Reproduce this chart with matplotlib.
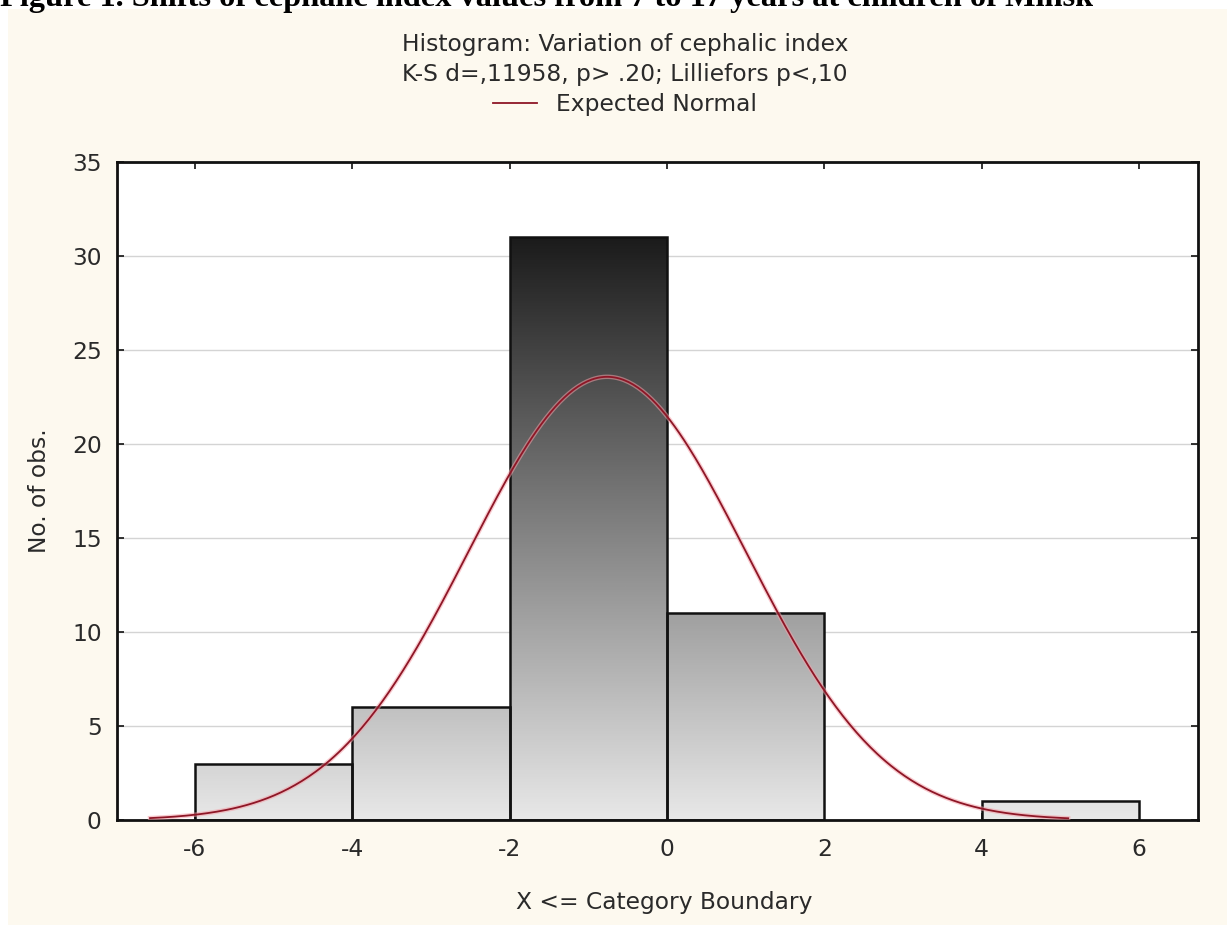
import numpy as np
import matplotlib
matplotlib.use("Agg")
import matplotlib.pyplot as plt
from matplotlib.colors import LinearSegmentedColormap, Normalize
from matplotlib.patches import Rectangle

# ---- data ----
bin_edges = [-6, -4, -2, 0, 2, 4, 6]
counts = [3, 6, 31, 11, 0, 1]
x_ticks = [-6, -4, -2, 0, 2, 4, 6]
y_ticks = [0, 5, 10, 15, 20, 25, 30, 35]
normal_mean = -0.76
normal_sd = 1.76
n_obs = 52
curve_range = (-6.57, 5.1)

fig_title = "Figure 1. Shifts of cephalic index values from 7 to 17 years at children of Minsk"
title1 = "Histogram: Variation of cephalic index"
title2 = "K-S d=,11958, p> .20; Lilliefors p<,10"
legend_label = "Expected Normal"
xlabel = "X <= Category Boundary"
ylabel = "No. of obs."

plt.rcParams['font.family'] = ['DejaVu Sans']
FS = 16.8
TXT = '#2a2a2a'

W, H = 1227, 925
fig = plt.figure(figsize=(W / 100, H / 100), dpi=100)
fig.patch.set_facecolor('white')

# beige panel
fig.patches.append(Rectangle((8 / W, 0), 1 - 8 / W, 1 - 9 / H, transform=fig.transFigure,
                             facecolor='#fdf9ef', edgecolor='none', zorder=-10))

fig.text(0.0, 1 - 6 / H, fig_title, family='Liberation Serif', fontweight='bold',
         fontsize=23.3, ha='left', va='baseline', color='black')

ax = fig.add_axes([117 / W, 1 - 820 / H, (1198 - 117) / W, (820 - 162) / H])
ax.set_facecolor('white')
ax.set_xlim(-6.99, 6.75)
ax.set_ylim(0, 35)

# gradient bars
cmap = LinearSegmentedColormap.from_list('g', ['#e8e8e8', '#1b1b1b'])
vmax = max(counts)
grad = np.linspace(0, vmax, 512).reshape(-1, 1)
for i, c in enumerate(counts):
    if c <= 0:
        continue
    x0, x1 = bin_edges[i], bin_edges[i + 1]
    rect = Rectangle((x0, 0), x1 - x0, c, facecolor='none', edgecolor='#111111', lw=1.8, zorder=3)
    ax.add_patch(rect)
    im = ax.imshow(grad, extent=[x0, x1, 0, vmax], origin='lower', aspect='auto',
                   cmap=cmap, norm=Normalize(0, vmax), zorder=2, interpolation='bilinear')
    im.set_clip_path(rect)

# expected normal curve
xs = np.linspace(curve_range[0], curve_range[1], 400)
binw = bin_edges[1] - bin_edges[0]
ys = n_obs * binw / (normal_sd * np.sqrt(2 * np.pi)) * np.exp(-0.5 * ((xs - normal_mean) / normal_sd) ** 2)
ax.plot(xs, ys, color='#f4a0a8', lw=3.2, alpha=0.55, zorder=4)
line, = ax.plot(xs, ys, color='#8e1626', lw=1.3, zorder=5, label=legend_label)

ax.set_xticks(x_ticks)
ax.set_yticks(y_ticks)
ax.set_xticklabels([str(t) for t in x_ticks])
ax.set_yticklabels([str(t) for t in y_ticks])
ax.tick_params(direction='in', length=5, width=1.2, labelsize=FS, top=True, right=True,
               colors='#111111', labelcolor=TXT)
ax.tick_params(axis='y', pad=11)
ax.tick_params(axis='x', pad=13)
ax.yaxis.grid(True, color='#d4d4d4', lw=1.0, zorder=0)
ax.set_axisbelow(True)
for s in ax.spines.values():
    s.set_linewidth(2.0)
    s.set_color('#111111')

ax.set_xlabel(xlabel, fontsize=FS, color=TXT, va='center')
ax.xaxis.set_label_coords((664 - 117) / (1198 - 117), -(902 - 820) / (820 - 162))
ax.set_ylabel(ylabel, fontsize=FS, color=TXT, va='center')
ax.yaxis.set_label_coords(-(117 - 39) / (1198 - 117), 0.5)

cx = 625 / W
fig.text(cx, 1 - 44 / H, title1, ha='center', va='center', fontsize=FS, color=TXT)
fig.text(cx, 1 - 75 / H, title2, ha='center', va='center', fontsize=FS, color=TXT)
leg = fig.legend(handles=[line], loc='center', bbox_to_anchor=(cx, 1 - 105 / H),
                 frameon=False, fontsize=FS, handlelength=1.9, handletextpad=0.8)
for t in leg.get_texts():
    t.set_color(TXT)

fig.savefig('out.png', dpi=100, facecolor=fig.get_facecolor())
